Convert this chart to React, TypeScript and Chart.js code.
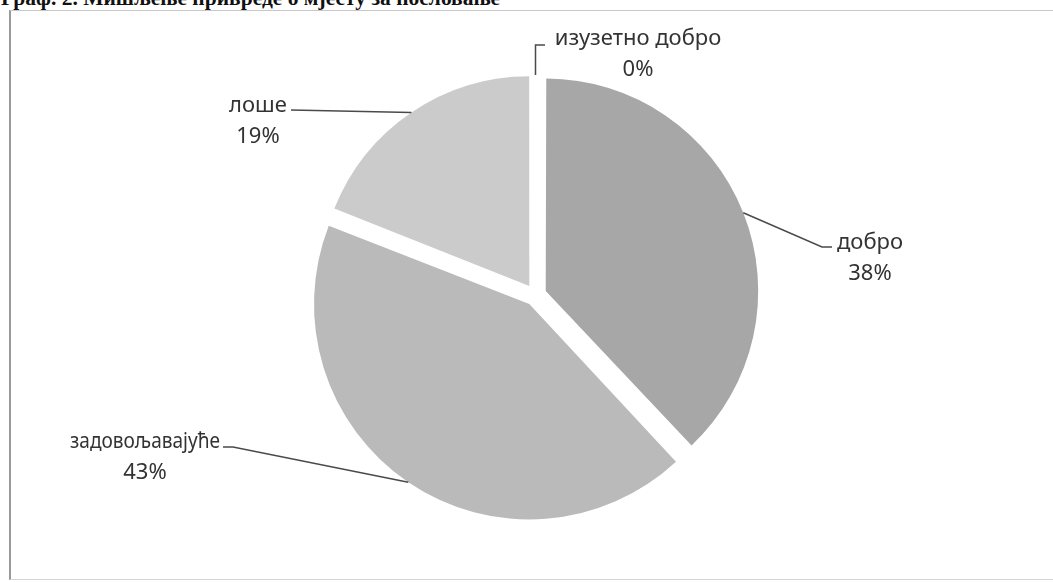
import React, { useEffect, useRef } from "react";
import { Chart, registerables } from "chart.js";

Chart.register(...registerables);

const TITLE = "Граф. 2. Мишљење привреде о мјесту за пословање";
const CATEGORIES = ["изузетно добро", "добро", "задовољавајуће", "лоше"];
const VALUES = [0, 38, 43, 19];
const COLORS = ["#8e8e8e", "#a7a7a7", "#bababa", "#cbcbcb"];

// label placement (annotation layout, not data)
const LABEL_LAYOUT = [
  { x: 638, y: 39, maxW: 190, path: [[535.5, 45], [545, 45]] },
  { x: 870, y: 243, maxW: 90, path: [[822, 247], [832, 247]] },
  { x: 145, y: 442, maxW: 150, path: [[233, 447], [223, 447]] },
  { x: 258, y: 106, maxW: 80, path: [[291, 110]] },
];

const W = 1053;
const H = 582;

const leaderPlugin = {
  id: "leaderLabels",
  afterDatasetsDraw(chart: any) {
    const ctx = chart.ctx as CanvasRenderingContext2D;
    const meta = chart.getDatasetMeta(0);
    const ds = chart.data.datasets[0];
    const offset = (ds.offset || 0) / 4;
    meta.data.forEach((arc: any, i: number) => {
      const p = arc.getProps(
        ["x", "y", "startAngle", "endAngle", "outerRadius", "circumference"],
        true
      );
      const mid = (p.startAngle + p.endAngle) / 2;
      const circ = p.circumference || 0;
      const fix = 1 - Math.sin(Math.min(Math.PI, circ));
      const r = p.outerRadius + (circ > 0 ? offset * fix : 0);
      const sx = p.x + Math.cos(mid) * (offset + r);
      const sy = p.y + Math.sin(mid) * (offset + r);
      const lay = LABEL_LAYOUT[i];
      ctx.save();
      ctx.strokeStyle = "#4a4a4a";
      ctx.lineWidth = 1.5;
      ctx.beginPath();
      ctx.moveTo(sx, sy);
      lay.path.forEach(([x, y]) => ctx.lineTo(x, y));
      ctx.stroke();
      ctx.fillStyle = "#333333";
      ctx.font = '22px "Noto Sans"';
      ctx.textAlign = "center";
      ctx.textBaseline = "middle";
      ctx.fillText(CATEGORIES[i], lay.x, lay.y, lay.maxW);
      ctx.fillText(`${VALUES[i]}%`, lay.x, lay.y + 30.5);
      ctx.restore();
    });
  },
};

export default function App() {
  const ref = useRef<HTMLCanvasElement | null>(null);
  useEffect(() => {
    if (!ref.current) return;
    const chart = new Chart(ref.current, {
      type: "pie",
      data: {
        labels: CATEGORIES,
        datasets: [
          {
            data: VALUES,
            backgroundColor: COLORS,
            borderWidth: 0,
            offset: 44,
            hoverOffset: 0,
          } as any,
        ],
      },
      options: {
        animation: false,
        responsive: false,
        devicePixelRatio: 1,
        radius: 209,
        layout: { padding: { left: 18, right: 0, top: 8, bottom: 0 } },
        plugins: {
          legend: { display: false },
          tooltip: { enabled: false },
        },
        events: [],
      } as any,
      plugins: [leaderPlugin],
    });
    return () => chart.destroy();
  }, []);

  return (
    <div
      style={{
        position: "fixed",
        left: 0,
        top: 0,
        width: W,
        height: H,
        overflow: "hidden",
        background: "#ffffff",
      }}
    >
      <div
        style={{
          position: "absolute",
          left: 1,
          top: -12,
          font: 'bold 21.5px "Liberation Serif"',
          lineHeight: "21px",
          color: "#111",
          whiteSpace: "nowrap",
        }}
      >
        {TITLE}
      </div>
      <div
        style={{
          position: "absolute",
          left: 9,
          top: 10,
          width: W,
          height: 570,
          borderLeft: "2px solid #9a9a9a",
          borderTop: "1px solid #c8c8c8",
          borderBottom: "1px solid #d4d4d4",
          boxSizing: "border-box",
        }}
      />
      <canvas
        ref={ref}
        width={W}
        height={H}
        style={{ position: "absolute", left: 0, top: 0, width: W, height: H }}
      />
    </div>
  );
}
